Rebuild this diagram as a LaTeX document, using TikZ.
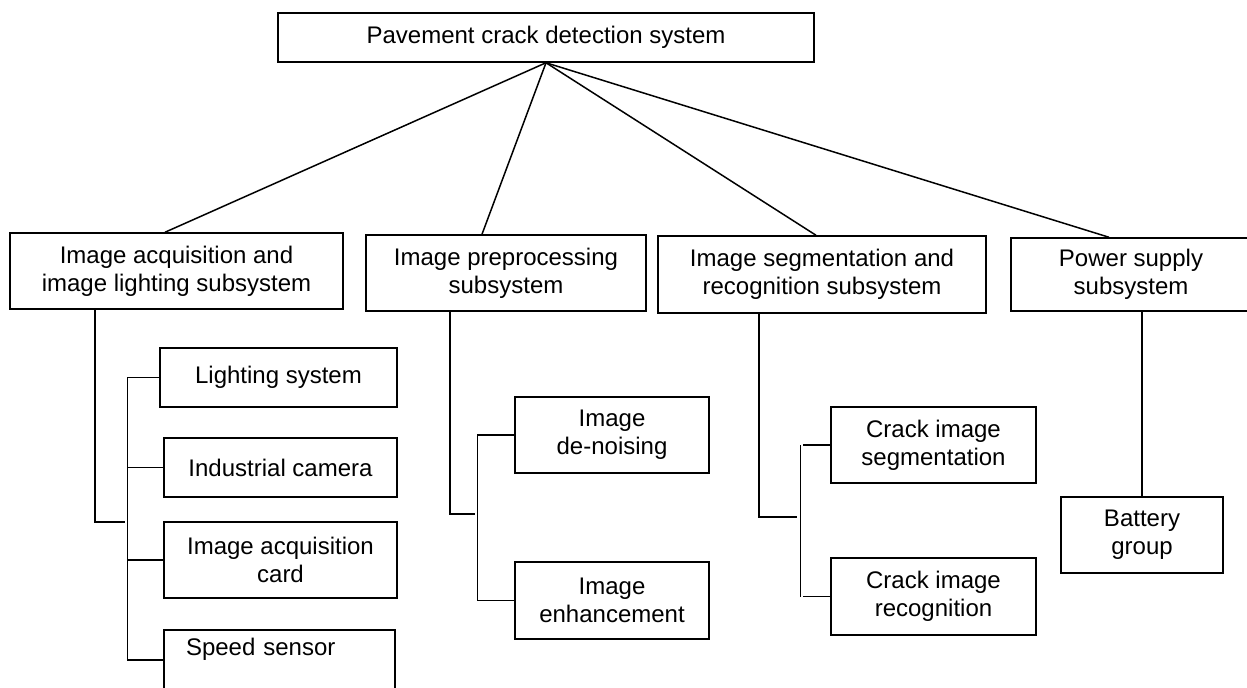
\documentclass[tikz,border=0pt]{standalone}
\usepackage{fontspec}
\setmainfont{Liberation Sans}
\usetikzlibrary{positioning,calc}
\tikzset{
  sysbox/.style   = {draw=black, line width=0.75pt, fill=white, align=center, inner sep=0pt, font=\fontsize{12}{14}\selectfont},
  link/.style     = {draw=black, line width=0.75pt},
}

\begin{document}
\begin{tikzpicture}[x=0.5pt,y=-0.5pt]
  \clip (0,0) rectangle (1247,687);

  % whole system
  \node[sysbox, minimum width=268pt, minimum height=24.5pt] (root) at (546,37.5) {Pavement crack detection system};

  % subsystems
  \node[sysbox, minimum width=166.5pt, minimum height=38pt] (acq) at (176.5,271) {Image acquisition and\\image lighting subsystem};
  \node[sysbox, minimum width=140pt, minimum height=38pt] (pre) at (506,273) {Image preprocessing\\subsystem};
  \node[sysbox, minimum width=164pt, minimum height=38.5pt] (seg) at (822,274.5) {Image segmentation and\\recognition subsystem};
  \node[sysbox, minimum width=120pt, minimum height=36.5pt] (power) at (1131,274.5) {Power supply\\subsystem};

  \draw[link] (root.south) -- ([xshift=-5.75pt]acq.north);
  \draw[link] (root.south) -- ([xshift=-12pt]pre.north);
  \draw[link] (root.south) -- ([xshift=-3pt]seg.north);
  \draw[link] (root.south) -- ([xshift=-11pt]power.north);

  % acquisition and lighting
  \node[sysbox, minimum width=118.5pt, minimum height=29.5pt] (light) at (278.5,377.5) {Lighting system};
  \node[sysbox, minimum width=116.5pt, minimum height=29.5pt] (cam) at (280.5,467.5) {Industrial camera};
  \node[sysbox, minimum width=116.5pt, minimum height=38pt] (card) at (280.5,560) {Image acquisition\\card};
  \node[sysbox, minimum width=115.5pt, minimum height=38pt, text width=93.5pt, inner xsep=11pt, align=left,
        text height=12.75pt, text depth=25.25pt] (speed) at (279.5,668) {Speed sensor};

  \coordinate (acqjoin) at (125,522);
  \draw[link] ([xshift=-40.75pt]acq.south) |- (acqjoin);
  \draw[link] (light.west) -- ++(-16pt,0) coordinate (acqbus) |- ([yshift=4pt]speed.west);
  \draw[link] (cam.west) -- (cam.west -| acqbus);
  \draw[link] (card.west) -- (card.west -| acqbus);

  % preprocessing
  \node[sysbox, minimum width=97pt, minimum height=38pt] (denoise) at (612,435) {Image\\de-noising};
  \node[sysbox, minimum width=97pt, minimum height=38.5pt] (enhance) at (612,600.5) {Image\\enhancement};

  \coordinate (prejoin) at (475,514);
  \draw[link] ([xshift=-28pt]pre.south) |- (prejoin);
  \draw[link] (denoise.west) -- ++(-18.5pt,0) |- (enhance.west);

  % segmentation and recognition
  \node[sysbox, minimum width=102.5pt, minimum height=38pt] (segm) at (933.5,445) {Crack image\\segmentation};
  \node[sysbox, minimum width=102.5pt, minimum height=38.5pt] (recog) at (933.5,596.5) {Crack image\\recognition};

  \coordinate (segjoin) at (797,517);
  \draw[link] ([xshift=-31.5pt]seg.south) |- (segjoin);
  \draw[link] ([xshift=-15pt]segm.west) -- ([xshift=-15pt]recog.west);
  \draw[link] (segm.west) -- ++(-13.5pt,0);
  \draw[link] (recog.west) -- ++(-13.5pt,0);

  % power supply
  \node[sysbox, minimum width=81pt, minimum height=38pt] (bat) at (1142,535) {Battery\\group};
  \draw[link] (bat.north) -- (bat.north |- power.south);
\end{tikzpicture}
\end{document}
